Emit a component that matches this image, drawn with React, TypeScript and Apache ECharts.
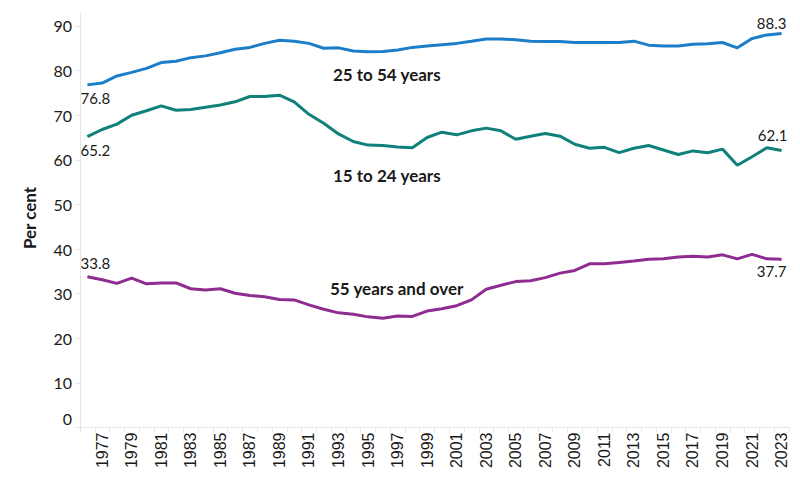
import React, { useEffect, useRef } from "react";
import * as echarts from "echarts";

const years: string[] = [];
for (let y = 1976; y <= 2023; y++) years.push(String(y));

const age25to54 = [
  76.8, 77.2, 78.8, 79.6, 80.5, 81.8, 82.1, 82.9, 83.3, 84.0,
  84.8, 85.2, 86.1, 86.8, 86.6, 86.1, 85.0, 85.1, 84.4, 84.2,
  84.3, 84.6, 85.2, 85.5, 85.8, 86.1, 86.6, 87.1, 87.1, 86.9,
  86.6, 86.5, 86.5, 86.3, 86.3, 86.3, 86.3, 86.6, 85.7, 85.5,
  85.5, 85.9, 86.0, 86.3, 85.1, 87.2, 88.0, 88.3,
];

const age15to24 = [
  65.2, 66.8, 68.0, 70.0, 71.0, 72.1, 71.1, 71.3, 71.8, 72.3,
  73.0, 74.2, 74.2, 74.5, 73.0, 70.2, 68.2, 65.8, 64.1, 63.3,
  63.2, 62.9, 62.7, 65.0, 66.2, 65.6, 66.5, 67.1, 66.5, 64.6,
  65.3, 65.9, 65.3, 63.5, 62.6, 62.8, 61.6, 62.6, 63.2, 62.2,
  61.2, 62.0, 61.6, 62.4, 58.8, 60.7, 62.7, 62.1,
];

const age55plus = [
  33.8, 33.1, 32.3, 33.5, 32.2, 32.4, 32.4, 31.1, 30.8, 31.1,
  30.1, 29.6, 29.3, 28.7, 28.6, 27.5, 26.5, 25.7, 25.4, 24.8,
  24.5, 25.0, 24.9, 26.1, 26.6, 27.3, 28.6, 31.0, 31.9, 32.7,
  32.9, 33.6, 34.6, 35.2, 36.7, 36.7, 37.0, 37.3, 37.7, 37.8,
  38.2, 38.4, 38.2, 38.7, 37.8, 38.8, 37.8, 37.7,
];

const seriesNames = ["25 to 54 years", "15 to 24 years", "55 years and over"];
const yTicks = [0, 10, 20, 30, 40, 50, 60, 70, 80, 90];

const COLORS = ["#1c7ec8", "#0f807a", "#8e2c90"];
const FONT = "Lato, 'Noto Sans', sans-serif";

type EndCfg = { pos: "top" | "bottom"; dist: number; off: [number, number] };

function buildData(values: number[], first: EndCfg, last: EndCfg) {
  const n = values.length;
  return values.map((v, i) => {
    if (i === 0 || i === n - 1) {
      const c = i === 0 ? first : last;
      return {
        value: v,
        label: {
          show: true,
          position: c.pos,
          distance: c.dist,
          offset: c.off,
          formatter: (p: any) => Number(p.value).toFixed(1),
          fontFamily: FONT,
          fontSize: 15,
          color: "#1a1a1a",
          opacity: 1,
        },
      };
    }
    return v;
  });
}

export default function App() {
  const ref = useRef<HTMLDivElement>(null);

  useEffect(() => {
    if (!ref.current) return;
    const chart = echarts.init(ref.current, undefined, { renderer: "svg" });
    const lineSeries = (name: string, values: number[], color: string, first: EndCfg, last: EndCfg) => ({
      name,
      type: "line",
      data: buildData(values, first, last),
      symbol: "circle",
      symbolSize: 1,
      showSymbol: true,
      showAllSymbol: true,
      lineStyle: { color, width: 3 },
      itemStyle: { color: "transparent", borderWidth: 0 },
      label: { show: false },
      z: 3,
    });

    chart.setOption({
      animation: false,
      backgroundColor: "#ffffff",
      grid: { left: 80, right: 11, top: 12.6, bottom: 72.5, containLabel: false },
      xAxis: {
        type: "category",
        data: years,
        boundaryGap: true,
        axisLine: { show: true, lineStyle: { color: "#e6e6e6", width: 1 } },
        axisTick: { show: true, interval: 0, length: 5, lineStyle: { color: "#e6e6e6" } },
        axisLabel: {
          rotate: 90,
          interval: (idx: number) => idx % 2 === 1,
          fontFamily: "'Liberation Sans', Arial, sans-serif",
          fontSize: 16,
          color: "#1a1a1a",
          margin: 5,
        },
        splitLine: { show: false },
      },
      yAxis: {
        type: "value",
        min: yTicks[0],
        max: 93,
        interval: 10,
        axisLine: { show: true, lineStyle: { color: "#e6e6e6", width: 1 } },
        axisTick: { show: true, length: 5, lineStyle: { color: "#e6e6e6" } },
        splitLine: { show: false },
        axisLabel: {
          showMaxLabel: false,
          fontFamily: FONT,
          fontSize: 16,
          color: "#1a1a1a",
          margin: 8,
          formatter: (v: number) => (yTicks.indexOf(v) === -1 ? "" : v === 0 ? "{z|0}" : String(v)),
          rich: { z: { fontFamily: FONT, fontSize: 16, color: "#1a1a1a", padding: [0, 0, 18, 0] } },
        },
      },
      series: [
        lineSeries(seriesNames[0], age25to54, COLORS[0],
          { pos: "bottom", dist: 5, off: [8, 0] },
          { pos: "top", dist: 3, off: [-10, 0] }),
        lineSeries(seriesNames[1], age15to24, COLORS[1],
          { pos: "bottom", dist: 5, off: [8, 0] },
          { pos: "top", dist: 7, off: [-9, 0] }),
        lineSeries(seriesNames[2], age55plus, COLORS[2],
          { pos: "top", dist: 6, off: [8, 0] },
          { pos: "bottom", dist: 4, off: [-10, 0] }),
      ],
      graphic: [
        {
          type: "text",
          x: 29,
          y: 218,
          rotation: Math.PI / 2,
          style: {
            text: "Per cent",
            fontFamily: FONT,
            fontWeight: "bold",
            fontSize: 17,
            fill: "#1a1a1a",
            textAlign: "center",
            textVerticalAlign: "middle",
          },
        },
        {
          type: "text",
          x: 333,
          y: 74,
          style: { text: seriesNames[0], fontFamily: FONT, fontWeight: "bold", fontSize: 17, fill: "#1a1a1a", textAlign: "left", textVerticalAlign: "middle" },
        },
        {
          type: "text",
          x: 333,
          y: 175,
          style: { text: seriesNames[1], fontFamily: FONT, fontWeight: "bold", fontSize: 17, fill: "#1a1a1a", textAlign: "left", textVerticalAlign: "middle" },
        },
        {
          type: "text",
          x: 330,
          y: 288.5,
          style: { text: seriesNames[2], fontFamily: FONT, fontWeight: "bold", fontSize: 17, fill: "#1a1a1a", textAlign: "left", textVerticalAlign: "middle" },
        },
      ],
    });
    return () => chart.dispose();
  }, []);

  return (
    <div
      ref={ref}
      style={{ position: "fixed", left: 0, top: 0, width: 800, height: 500, background: "#fff" }}
    />
  );
}
